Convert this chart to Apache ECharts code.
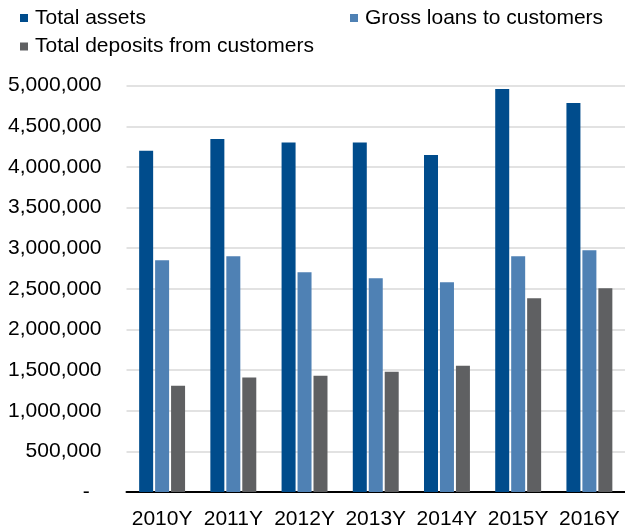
<!DOCTYPE html>
<html>
<head>
<meta charset="utf-8">
<script src="https://cdn.jsdelivr.net/npm/echarts@6/dist/echarts.min.js"></script>
<style>html,body{margin:0;padding:0;background:#fff;}#chart{width:625px;height:530px;}</style>
</head>
<body>
<div id="chart"></div>
<script>
const categories = ['2010Y', '2011Y', '2012Y', '2013Y', '2014Y', '2015Y', '2016Y'];
const seriesNames = ['Total assets', 'Gross loans to customers', 'Total deposits from customers'];
const totalAssets = [4200000, 4345000, 4300000, 4300000, 4148000, 4960000, 4788000];
const grossLoans = [2853000, 2900000, 2705000, 2631000, 2582000, 2900000, 2975000];
const totalDeposits = [1307000, 1409000, 1430000, 1479000, 1553000, 2385000, 2508000];
const colors = ['#004c8c', '#4f81b4', '#5f6062'];

const chart = echarts.init(document.getElementById('chart'), null, {renderer: 'canvas'});
const font = 'Liberation Sans, Arial, sans-serif';
const legendBase = {
  icon: 'rect', itemWidth: 8, itemHeight: 8, padding: 0,
  textStyle: {fontSize: 21, color: '#000', fontFamily: font, padding: [0, 0, 0, 2]}
};
const values = [totalAssets, grossLoans, totalDeposits];
chart.setOption({
  animation: false,
  color: colors,
  legend: [
    Object.assign({}, legendBase, {left: 20, top: 7.5, data: [seriesNames[0]]}),
    Object.assign({}, legendBase, {left: 350, top: 7.5, data: [seriesNames[1]]}),
    Object.assign({}, legendBase, {left: 20, top: 36, data: [seriesNames[2]]})
  ],
  grid: {left: 126.5, right: -4, top: 85.7, bottom: 37, containLabel: false},
  xAxis: {
    type: 'category',
    data: categories,
    axisLine: {show: true, lineStyle: {color: '#000', width: 2}},
    axisTick: {show: false},
    axisLabel: {fontSize: 21, color: '#000', fontFamily: font, margin: 17, interval: 0}
  },
  yAxis: {
    type: 'value',
    min: 0, max: 5000000, interval: 500000,
    axisLine: {show: false},
    axisTick: {show: false},
    splitLine: {lineStyle: {color: '#d9d9d9', width: 1.5}},
    axisLabel: {
      fontSize: 21, color: '#000', fontFamily: font, margin: 25,
      formatter: v => v === 0 ? '-  ' : v.toLocaleString('en-US')
    }
  },
  series: seriesNames.map((name, i) => ({
    name: name,
    type: 'bar',
    data: values[i],
    barWidth: 14,
    barGap: '14%',
    itemStyle: {color: colors[i]}
  }))
});
</script>
</body>
</html>
